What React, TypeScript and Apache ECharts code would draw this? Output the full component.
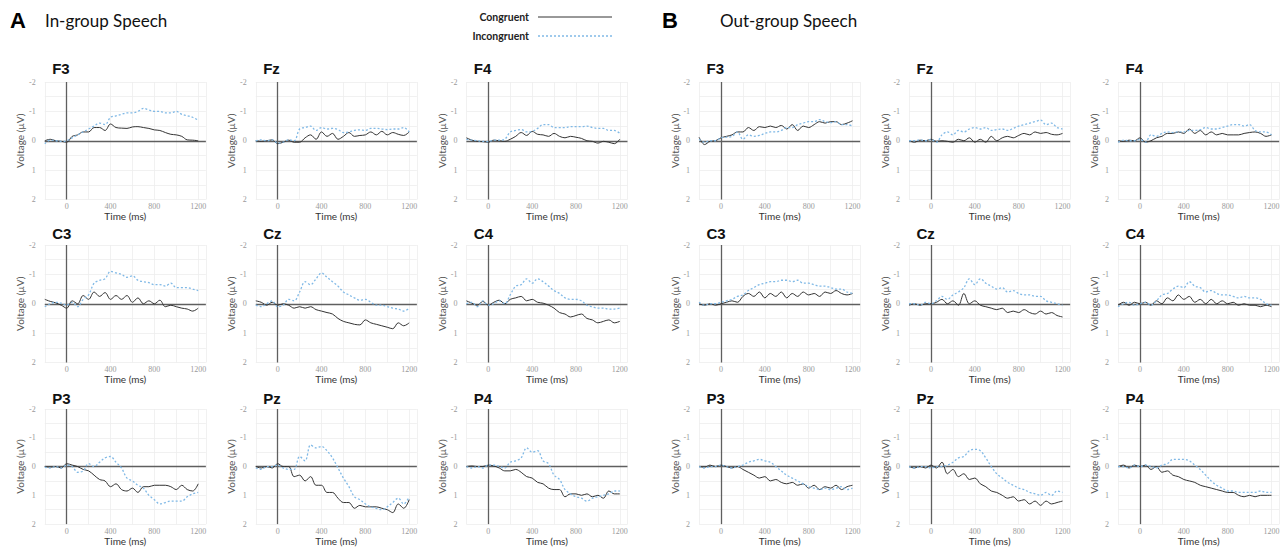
import React, { useEffect, useRef } from "react";
import * as echarts from "echarts";

const times = [-200, -150, -100, -50, 0, 50, 100, 150, 200, 250, 300, 350, 400, 450, 500, 550, 600, 650, 700, 750, 800, 850, 900, 950, 1000, 1050, 1100, 1150, 1200];
const electrodes = [["F3", "Fz", "F4"], ["C3", "Cz", "C4"], ["P3", "Pz", "P4"]];
const xTickLabels = [0, 400, 800, 1200];
const yTickLabels = [-2, -1, 0, 1, 2];
const groupLetters = ["A", "B"];
const groupTitles = ["In-group Speech", "Out-group Speech"];
const legendNames = ["Congruent", "Incongruent"];

// In-group (A)
const A_F3_con = [0, -0.05, 0, 0.02, 0.05, -0.15, -0.2, -0.3, -0.3, -0.45, -0.45, -0.35, -0.57, -0.45, -0.43, -0.42, -0.47, -0.48, -0.45, -0.42, -0.37, -0.35, -0.28, -0.22, -0.2, -0.15, -0.03, -0.02, 0];
const A_F3_inc = [0.1, -0.02, 0, 0.02, 0, -0.1, -0.2, -0.3, -0.4, -0.5, -0.6, -0.55, -0.8, -0.85, -0.9, -0.95, -0.95, -1.0, -1.1, -1.05, -1.0, -1.0, -0.95, -0.95, -1.0, -0.9, -0.85, -0.8, -0.7];
const A_Fz_con = [0, 0.02, 0, -0.03, 0.1, 0.05, -0.02, 0.05, 0.05, -0.1, -0.2, -0.05, -0.3, -0.15, -0.25, -0.05, -0.15, -0.28, -0.15, -0.18, -0.2, -0.3, -0.2, -0.32, -0.2, -0.28, -0.22, -0.18, -0.3];
const A_Fz_inc = [0, -0.03, 0, -0.03, 0.08, 0.05, -0.03, 0, -0.4, -0.45, -0.5, -0.35, -0.45, -0.4, -0.42, -0.38, -0.28, -0.3, -0.35, -0.37, -0.35, -0.42, -0.42, -0.4, -0.38, -0.4, -0.4, -0.45, -0.3];
const A_F4_con = [-0.1, -0.02, 0.02, 0.03, 0.05, -0.02, 0, 0.02, -0.05, -0.15, -0.28, -0.18, -0.32, -0.22, -0.2, -0.15, -0.25, -0.15, -0.1, -0.15, -0.12, -0.08, 0, 0.02, 0.08, 0.02, 0.05, 0.1, -0.05];
const A_F4_inc = [-0.05, -0.02, 0, 0.02, 0.03, -0.02, -0.02, -0.05, -0.3, -0.35, -0.38, -0.3, -0.32, -0.42, -0.55, -0.55, -0.45, -0.45, -0.45, -0.48, -0.48, -0.48, -0.5, -0.45, -0.42, -0.42, -0.35, -0.35, -0.25];
const A_C3_con = [-0.15, -0.08, -0.03, 0.05, 0.15, -0.1, 0, -0.28, -0.15, -0.4, -0.25, -0.38, -0.15, -0.28, -0.15, -0.28, -0.05, -0.2, 0, -0.1, 0, -0.12, 0.1, 0.05, 0.1, 0.15, 0.18, 0.25, 0.15];
const A_C3_inc = [0.1, 0, -0.05, -0.02, 0.05, -0.05, 0.1, -0.15, -0.3, -0.7, -0.8, -0.85, -1.1, -1.05, -1.0, -0.9, -0.95, -0.8, -0.75, -0.72, -0.65, -0.65, -0.6, -0.7, -0.55, -0.55, -0.55, -0.5, -0.45];
const A_Cz_con = [-0.1, -0.05, 0.05, -0.05, 0.05, 0, 0.05, 0.15, 0.1, 0.15, 0.1, 0.2, 0.25, 0.3, 0.35, 0.5, 0.6, 0.65, 0.7, 0.72, 0.55, 0.65, 0.7, 0.75, 0.8, 0.85, 0.65, 0.75, 0.65];
const A_Cz_inc = [0.05, 0.1, 0, -0.1, 0.1, 0.05, -0.15, -0.1, -0.4, -0.75, -0.65, -0.85, -1.05, -0.9, -0.75, -0.6, -0.4, -0.3, -0.2, -0.12, -0.15, -0.05, 0.05, 0.05, 0.1, 0.15, 0.18, 0.25, 0.15];
const A_C4_con = [-0.1, -0.02, 0.05, -0.08, 0.05, -0.05, -0.12, 0, -0.15, -0.2, -0.25, -0.1, -0.15, -0.05, -0.02, 0.05, 0.15, 0.3, 0.35, 0.45, 0.4, 0.35, 0.5, 0.55, 0.65, 0.6, 0.55, 0.65, 0.6];
const A_C4_inc = [0, -0.05, 0.1, -0.1, 0.05, 0, -0.1, 0, -0.3, -0.6, -0.65, -0.85, -0.7, -0.85, -0.75, -0.6, -0.45, -0.35, -0.2, -0.15, -0.15, -0.1, 0.05, 0.1, 0.15, 0.15, 0.18, 0.18, 0.15];
const A_P3_con = [0, 0.02, 0, 0.05, -0.1, -0.05, 0, 0.1, 0.15, 0.3, 0.45, 0.5, 0.7, 0.6, 0.8, 0.85, 0.75, 0.9, 0.7, 0.7, 0.65, 0.65, 0.65, 0.7, 0.8, 0.65, 0.8, 0.85, 0.6];
const A_P3_inc = [0.02, 0.05, 0, 0.05, -0.05, 0, 0.2, 0.15, -0.1, 0, -0.15, -0.3, -0.35, -0.15, 0.05, 0.4, 0.5, 0.65, 0.75, 1.0, 1.15, 1.3, 1.25, 1.2, 1.2, 1.2, 1.05, 0.95, 0.9];
const A_Pz_con = [0, 0.05, 0, 0.05, -0.1, 0, 0, 0.35, 0.3, 0.5, 0.35, 0.65, 0.65, 0.9, 0.9, 1.1, 1.25, 1.25, 1.45, 1.35, 1.4, 1.4, 1.4, 1.45, 1.5, 1.6, 1.3, 1.45, 1.15];
const A_Pz_inc = [0.05, 0.1, 0, 0, -0.05, 0.05, 0.1, 0.1, -0.35, -0.2, -0.75, -0.65, -0.7, -0.55, -0.3, 0.05, 0.4, 0.7, 1.05, 1.15, 1.3, 1.4, 1.45, 1.5, 1.4, 1.25, 1.1, 1.3, 1.05];
const A_P4_con = [0, -0.02, 0, 0, -0.05, -0.02, 0.05, 0.15, 0.15, 0.1, 0.2, 0.35, 0.4, 0.55, 0.6, 0.75, 0.8, 0.8, 1.05, 0.95, 0.95, 1.0, 0.95, 1.05, 1.0, 1.1, 0.85, 0.95, 0.95];
const A_P4_inc = [0, 0.05, 0, 0.05, -0.05, -0.05, 0, 0.05, -0.15, -0.2, -0.3, -0.65, -0.5, -0.55, -0.2, -0.1, 0.3, 0.45, 0.8, 0.95, 1.05, 1.1, 1.2, 1.1, 1.05, 1.0, 0.95, 0.85, 0.85];

// Out-group (B)
const B_F3_con = [-0.12, 0.13, 0.02, 0, -0.1, -0.15, -0.2, -0.3, -0.3, -0.45, -0.35, -0.48, -0.45, -0.5, -0.45, -0.52, -0.4, -0.55, -0.35, -0.5, -0.45, -0.55, -0.65, -0.6, -0.65, -0.65, -0.55, -0.6, -0.68];
const B_F3_inc = [-0.05, 0.05, 0, 0, -0.1, -0.12, -0.15, -0.3, -0.05, -0.2, -0.15, -0.18, -0.25, -0.3, -0.3, -0.35, -0.45, -0.45, -0.55, -0.6, -0.65, -0.65, -0.72, -0.65, -0.62, -0.65, -0.55, -0.55, -0.5];
const B_Fz_con = [0, 0.05, -0.02, 0, -0.05, 0.02, 0, 0.02, 0.05, -0.05, 0, -0.1, 0.05, -0.05, 0.05, -0.15, 0, -0.1, -0.15, -0.1, -0.18, -0.25, -0.2, -0.3, -0.25, -0.28, -0.22, -0.2, -0.25];
const B_Fz_inc = [0, 0, -0.03, 0, -0.05, 0.05, -0.2, -0.3, -0.2, -0.35, -0.3, -0.4, -0.45, -0.4, -0.45, -0.35, -0.38, -0.4, -0.35, -0.42, -0.5, -0.55, -0.6, -0.65, -0.7, -0.55, -0.6, -0.45, -0.4];
const B_F4_con = [0, 0.02, -0.02, 0, -0.1, 0.05, 0, -0.1, -0.15, -0.25, -0.25, -0.3, -0.25, -0.4, -0.25, -0.35, -0.2, -0.3, -0.2, -0.25, -0.2, -0.2, -0.2, -0.25, -0.28, -0.3, -0.25, -0.15, -0.2];
const B_F4_inc = [0.05, -0.02, 0, 0, -0.05, 0.05, -0.2, -0.15, -0.25, -0.3, -0.28, -0.3, -0.3, -0.35, -0.35, -0.38, -0.45, -0.4, -0.4, -0.45, -0.5, -0.55, -0.55, -0.5, -0.55, -0.35, -0.3, -0.3, -0.2];
const B_C3_con = [0, 0.05, 0, 0.05, 0, -0.05, -0.1, -0.05, -0.25, -0.35, -0.25, -0.4, -0.2, -0.35, -0.25, -0.4, -0.2, -0.35, -0.25, -0.4, -0.3, -0.35, -0.25, -0.4, -0.35, -0.45, -0.35, -0.3, -0.35];
const B_C3_inc = [-0.05, 0.05, 0, 0, -0.05, -0.1, -0.15, -0.25, -0.3, -0.45, -0.55, -0.65, -0.7, -0.75, -0.75, -0.8, -0.8, -0.75, -0.8, -0.7, -0.7, -0.65, -0.6, -0.6, -0.55, -0.5, -0.5, -0.4, -0.35];
const B_Cz_con = [0.05, 0, 0.05, 0, 0, -0.05, -0.15, 0, -0.1, 0.05, -0.35, 0, -0.1, 0.05, 0.1, 0.15, 0.2, 0.15, 0.3, 0.25, 0.3, 0.2, 0.3, 0.35, 0.25, 0.35, 0.3, 0.4, 0.45];
const B_Cz_inc = [0, 0, 0.05, -0.05, 0, -0.1, -0.25, -0.15, -0.3, -0.4, -0.55, -0.85, -0.65, -0.85, -0.7, -0.6, -0.5, -0.55, -0.4, -0.45, -0.35, -0.3, -0.3, -0.25, -0.25, -0.1, -0.05, 0, 0.05];
const B_C4_con = [0.05, -0.05, 0.05, -0.05, 0, -0.05, 0.05, -0.1, 0, -0.2, -0.1, -0.3, -0.15, -0.25, -0.05, -0.15, 0, -0.15, 0, -0.1, 0, -0.05, 0.05, 0, 0.05, 0.05, 0.1, 0.05, 0.1];
const B_C4_inc = [0.1, 0, -0.05, 0.05, 0, -0.05, 0.05, -0.1, -0.3, -0.35, -0.5, -0.6, -0.55, -0.75, -0.6, -0.55, -0.4, -0.45, -0.35, -0.3, -0.3, -0.25, -0.2, -0.25, -0.2, -0.2, -0.15, 0, 0.05];
const B_P3_con = [0, 0.02, -0.05, 0, -0.05, 0, 0.05, 0, 0.1, 0.2, 0.3, 0.4, 0.35, 0.5, 0.45, 0.55, 0.6, 0.55, 0.65, 0.6, 0.75, 0.65, 0.8, 0.7, 0.75, 0.65, 0.8, 0.7, 0.65];
const B_P3_inc = [0, 0.05, 0, 0, -0.05, 0, 0.05, 0, -0.05, -0.15, -0.2, -0.25, -0.2, -0.15, 0, 0.15, 0.3, 0.4, 0.5, 0.6, 0.7, 0.75, 0.8, 0.75, 0.8, 0.75, 0.7, 0.8, 0.75];
const B_Pz_con = [0, 0.05, 0, 0.05, -0.05, 0.05, -0.15, 0.25, 0.1, 0.35, 0.25, 0.45, 0.4, 0.6, 0.7, 0.85, 0.9, 1.0, 1.1, 1.05, 1.2, 1.15, 1.3, 1.2, 1.35, 1.2, 1.3, 1.25, 1.2];
const B_Pz_inc = [0, 0.05, 0, 0, 0.05, 0, 0, -0.05, -0.15, -0.3, -0.35, -0.55, -0.6, -0.55, -0.3, 0, 0.25, 0.4, 0.55, 0.65, 0.75, 0.8, 0.9, 0.95, 1.0, 0.9, 1.0, 0.85, 0.9];
const B_P4_con = [0, -0.05, 0.05, -0.05, 0, -0.05, 0.1, 0, 0.2, 0.15, 0.3, 0.35, 0.45, 0.5, 0.55, 0.65, 0.7, 0.75, 0.8, 0.85, 0.9, 0.9, 1.0, 1.05, 1.0, 1.05, 1.0, 1.0, 1.0];
const B_P4_inc = [0, 0, 0.05, -0.05, 0, -0.05, 0, 0.05, -0.05, -0.1, -0.25, -0.25, -0.25, -0.2, -0.05, 0.1, 0.3, 0.5, 0.65, 0.75, 0.85, 0.85, 0.9, 0.9, 0.9, 0.9, 0.85, 0.9, 0.9];

const congruent: Record<string, number[]>[] = [
  { F3: A_F3_con, Fz: A_Fz_con, F4: A_F4_con, C3: A_C3_con, Cz: A_Cz_con, C4: A_C4_con, P3: A_P3_con, Pz: A_Pz_con, P4: A_P4_con },
  { F3: B_F3_con, Fz: B_Fz_con, F4: B_F4_con, C3: B_C3_con, Cz: B_Cz_con, C4: B_C4_con, P3: B_P3_con, Pz: B_Pz_con, P4: B_P4_con },
];
const incongruent: Record<string, number[]>[] = [
  { F3: A_F3_inc, Fz: A_Fz_inc, F4: A_F4_inc, C3: A_C3_inc, Cz: A_Cz_inc, C4: A_C4_inc, P3: A_P3_inc, Pz: A_Pz_inc, P4: A_P4_inc },
  { F3: B_F3_inc, Fz: B_Fz_inc, F4: B_F4_inc, C3: B_C3_inc, Cz: B_Cz_inc, C4: B_C4_inc, P3: B_P3_inc, Pz: B_Pz_inc, P4: B_P4_inc },
];

// layout (pixels)
const COL_X0 = [[66.7, 277.7, 488.3], [721, 931, 1140]];
const ROW_TOP = [82, 245, 409];
const ROW_TITLE_Y = [68, 233, 398];
const PLOT_H = 117.5;
const PX_PER_MS = 131.5 / 1200;
const X_MIN = -200;
const X_MAX = 1270;

const CON_COLOR = "#333333";
const INC_COLOR = "#80b9e6";
const TITLE_FONT = "Lato, 'DejaVu Sans', sans-serif";

export default function App() {
  const ref = useRef<HTMLDivElement>(null);
  useEffect(() => {
    if (!ref.current) return;
    const chart = echarts.init(ref.current, null, { renderer: "svg" });
    const grids: any[] = [];
    const xAxes: any[] = [];
    const yAxes: any[] = [];
    const series: any[] = [];
    const graphics: any[] = [];
    let gi = 0;
    for (let g = 0; g < 2; g++) {
      for (let r = 0; r < 3; r++) {
        for (let c = 0; c < 3; c++) {
          const el = electrodes[r][c];
          const x0 = COL_X0[g][c];
          const left = x0 + X_MIN * PX_PER_MS;
          const width = (X_MAX - X_MIN) * PX_PER_MS;
          grids.push({ left, top: ROW_TOP[r], width, height: PLOT_H, containLabel: false });
          xAxes.push({
            gridIndex: gi,
            type: "value",
            min: X_MIN,
            max: X_MAX,
            interval: 200,
            axisLine: { show: false },
            axisTick: { show: false },
            axisLabel: {
              fontSize: 8,
              color: "#9a9a9a",
              margin: 3,
              fontFamily: "'Liberation Serif', serif",
              showMaxLabel: false,
              formatter: (v: number) => (xTickLabels.includes(v) ? String(v) : ""),
            },
            splitLine: { show: true, lineStyle: { color: "#ededed", width: 0.8 } },
            name: "Time (ms)",
            nameLocation: "middle",
            nameGap: 9,
            nameTextStyle: { fontSize: 10, color: "#333", fontFamily: TITLE_FONT },
          });
          yAxes.push({
            gridIndex: gi,
            type: "value",
            min: -2,
            max: 2,
            interval: 0.5,
            inverse: true,
            axisLine: { show: false },
            axisTick: { show: false },
            axisLabel: {
              fontSize: 8,
              color: "#9a9a9a",
              margin: 9,
              fontFamily: "'Liberation Serif', serif",
              formatter: (v: number) => (yTickLabels.includes(v) ? String(v) : ""),
            },
            splitLine: { show: true, lineStyle: { color: "#ededed", width: 0.8 } },
            name: "Voltage (µV)",
            nameLocation: "middle",
            nameGap: 17,
            nameRotate: 90,
            nameTextStyle: { fontSize: 10, color: "#555", fontFamily: TITLE_FONT },
          });
          series.push({
            name: legendNames[0],
            type: "line",
            xAxisIndex: gi,
            yAxisIndex: gi,
            data: times.map((t, i) => [t, congruent[g][el][i]]),
            showSymbol: false,
            smooth: 0.35,
            lineStyle: { color: CON_COLOR, width: 1 },
            itemStyle: { color: CON_COLOR },
            z: 3,
            markLine: {
              silent: true,
              symbol: "none",
              label: { show: false },
              lineStyle: { color: "#5f5f5f", width: 1.3, type: "solid" },
              data: [{ xAxis: 0 }, { yAxis: 0 }],
              z: 2,
            },
          });
          series.push({
            name: legendNames[1],
            type: "line",
            xAxisIndex: gi,
            yAxisIndex: gi,
            data: times.map((t, i) => [t, incongruent[g][el][i]]),
            showSymbol: false,
            smooth: 0.35,
            lineStyle: { color: INC_COLOR, width: 1.3, type: [2, 2] },
            itemStyle: { color: INC_COLOR },
            z: 4,
          });
          graphics.push({
            type: "text",
            x: x0 - 14.5,
            y: ROW_TITLE_Y[r],
            style: {
              text: el,
              fontSize: 15,
              fontWeight: "bold",
              fontFamily: "'Liberation Sans', sans-serif",
              fill: "#111",
              verticalAlign: "middle",
            },
          });
          gi++;
        }
      }
    }
    // group titles
    const letterX = [10, 662];
    const titleX = [45, 720];
    for (let g = 0; g < 2; g++) {
      graphics.push({
        type: "text",
        x: letterX[g],
        y: 20,
        style: { text: groupLetters[g], fontSize: 22, fontWeight: "bold", fontFamily: "'Liberation Sans', sans-serif", fill: "#000", verticalAlign: "middle" },
      });
      graphics.push({
        type: "text",
        x: titleX[g],
        y: 20,
        style: { text: groupTitles[g], fontSize: 17, fontFamily: TITLE_FONT, fill: "#111", verticalAlign: "middle" },
      });
    }
    // legend
    const legY = [17, 36];
    const legColors = [CON_COLOR, INC_COLOR];
    for (let k = 0; k < 2; k++) {
      graphics.push({
        type: "text",
        x: 529,
        y: legY[k],
        style: { text: legendNames[k], fontSize: 10.5, fontWeight: "bold", fontFamily: TITLE_FONT, fill: "#222", align: "right", verticalAlign: "middle" },
      });
      graphics.push({
        type: "line",
        shape: { x1: 538, y1: legY[k], x2: 612, y2: legY[k] },
        style: { stroke: legColors[k], lineWidth: k === 0 ? 1 : 1.3, lineDash: k === 0 ? null : [2, 2] },
      });
    }
    chart.setOption({
      animation: false,
      backgroundColor: "#ffffff",
      grid: grids,
      xAxis: xAxes,
      yAxis: yAxes,
      series,
      graphic: graphics,
    });
    return () => chart.dispose();
  }, []);
  return <div ref={ref} style={{ position: "absolute", left: 0, top: 0, width: 1288, height: 547 }} />;
}
